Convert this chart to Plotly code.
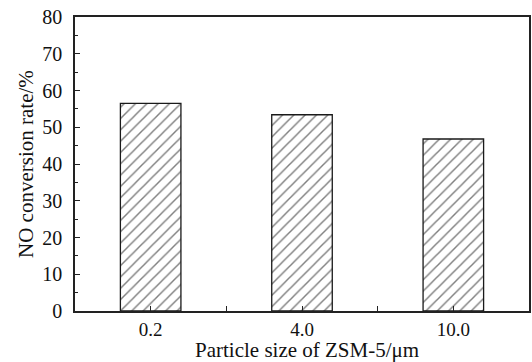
import plotly.graph_objects as go

categories = ["0.2", "4.0", "10.0"]
values = [56.5, 53.4, 46.8]
y_ticks = [0, 10, 20, 30, 40, 50, 60, 70, 80]
x_title = "Particle size of ZSM-5/μm"
y_title = "NO conversion rate/%"

x_pos = list(range(len(categories)))

fig = go.Figure()
fig.add_trace(go.Bar(
    x=x_pos, y=values, width=0.4,
    marker=dict(
        color="white",
        line=dict(color="#1a1a1a", width=1.3),
        pattern=dict(shape="/", size=8, solidity=0.18, fgcolor="#000000", bgcolor="white"),
    ),
    showlegend=False,
))

font_family = "Liberation Serif, Times New Roman, serif"
fig.update_layout(
    width=532, height=362,
    margin=dict(l=75, r=3, t=17, b=51, autoexpand=False),
    paper_bgcolor="white", plot_bgcolor="white",
    font=dict(family=font_family, size=20, color="#111111"),
    xaxis=dict(
        range=[-0.5, 2.5],
        tickmode="array", tickvals=x_pos, ticktext=categories,
        ticks="inside", ticklen=5, tickwidth=1, tickcolor="#222",
        showline=True, linecolor="#222", linewidth=1.5, mirror=True,
        showgrid=False, zeroline=False, automargin=False,
        minor=dict(tickmode="array", tickvals=[0.5, 1.5], ticks="inside", ticklen=5, tickwidth=1, tickcolor="#222"),
        tickfont=dict(size=19),
        ticklabeloverflow="allow",
        ticklabelstandoff=0,
    ),
    yaxis=dict(
        range=[0, 80],
        tickmode="array", tickvals=y_ticks,
        ticks="inside", ticklen=5, tickwidth=1, tickcolor="#222",
        showline=True, linecolor="#222", linewidth=1.5, mirror=True,
        showgrid=False, zeroline=False, automargin=False,
        minor=dict(tickmode="linear", tick0=5, dtick=10, ticks="inside", ticklen=3, tickwidth=1, tickcolor="#222"),
        tickfont=dict(size=20),
        ticklabeloverflow="allow",
        ticklabelstandoff=7,
    ),
    annotations=[
        dict(text=x_title, xref="paper", yref="paper", x=0.511, y=-0.134,
             xanchor="center", yanchor="middle", showarrow=False, font=dict(size=21)),
        dict(text=y_title, xref="paper", yref="paper", x=-0.108, y=0.5, textangle=-90,
             xanchor="center", yanchor="middle", showarrow=False, font=dict(size=21)),
    ],
)

fig.write_html("out.html", config={"displayModeBar": False},
               post_script="document.body.style.margin='0';document.body.style.overflow='hidden';")
